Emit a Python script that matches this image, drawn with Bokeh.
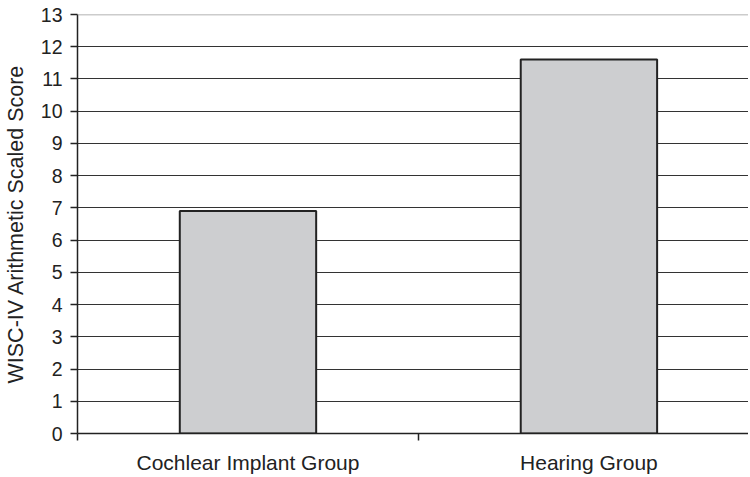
from bokeh.plotting import figure
from bokeh.models import FixedTicker, Range1d, Span, ColumnDataSource
from bokeh.embed import file_html
from bokeh.resources import INLINE

categories = ["Cochlear Implant Group", "Hearing Group"]
positions = [0.5, 1.5]
scores = [6.9, 11.6]
y_ticks = list(range(0, 14))

src = ColumnDataSource(dict(x=positions, top=scores))

p = figure(width=748, height=476, output_backend="svg", toolbar_location=None,
           x_range=Range1d(0, 1.968), y_range=Range1d(0, 13),
           min_border_left=77, min_border_top=14, min_border_right=0, min_border_bottom=0)
p.outline_line_color = None
p.background_fill_color = "white"

p.vbar(x="x", top="top", width=0.40, bottom=0, source=src,
       fill_color="#cdced0", line_color="#222222", line_width=2)

font = "Liberation Sans"

# y axis
p.yaxis.ticker = FixedTicker(ticks=y_ticks)
p.yaxis.axis_line_color = "#222222"
p.yaxis.axis_line_width = 1.5
p.yaxis.major_tick_out = 7
p.yaxis.major_tick_in = 0
p.yaxis.major_tick_line_color = "#222222"
p.yaxis.major_tick_line_width = 1.5
p.yaxis.minor_tick_line_color = None
p.yaxis.major_label_standoff = 8
p.yaxis.major_label_text_font = font
p.yaxis.major_label_text_font_size = "19.5px"
p.yaxis.major_label_text_color = "#222222"
p.yaxis.axis_label = "WISC-IV Arithmetic Scaled Score"
p.yaxis.axis_label_text_font = font
p.yaxis.axis_label_text_font_size = "21.5px"
p.yaxis.axis_label_text_font_style = "normal"
p.yaxis.axis_label_text_color = "#222222"
p.yaxis.axis_label_standoff = 10

# x axis
p.xaxis.ticker = FixedTicker(ticks=positions, minor_ticks=[0, 1, 2])
p.xaxis.major_label_overrides = {pos: c for pos, c in zip(positions, categories)}
p.xaxis.axis_line_color = "#222222"
p.xaxis.axis_line_width = 1.5
p.xaxis.major_tick_out = 0
p.xaxis.major_tick_in = 0
p.xaxis.minor_tick_out = 7
p.xaxis.minor_tick_in = 0
p.xaxis.minor_tick_line_color = "#222222"
p.xaxis.minor_tick_line_width = 1.5
p.xaxis.major_label_standoff = 10
p.xaxis.major_label_text_font = font
p.xaxis.major_label_text_font_size = "21px"
p.xaxis.major_label_text_color = "#222222"

# grid
p.xgrid.grid_line_color = None
p.ygrid.ticker = FixedTicker(ticks=y_ticks[1:-1])
p.ygrid.grid_line_color = "#333333"
p.ygrid.grid_line_width = 1.2
p.add_layout(Span(location=y_ticks[-1], dimension="width", line_color="#999999", line_width=1.5))

open("out.html", "w").write(file_html(p, INLINE))
